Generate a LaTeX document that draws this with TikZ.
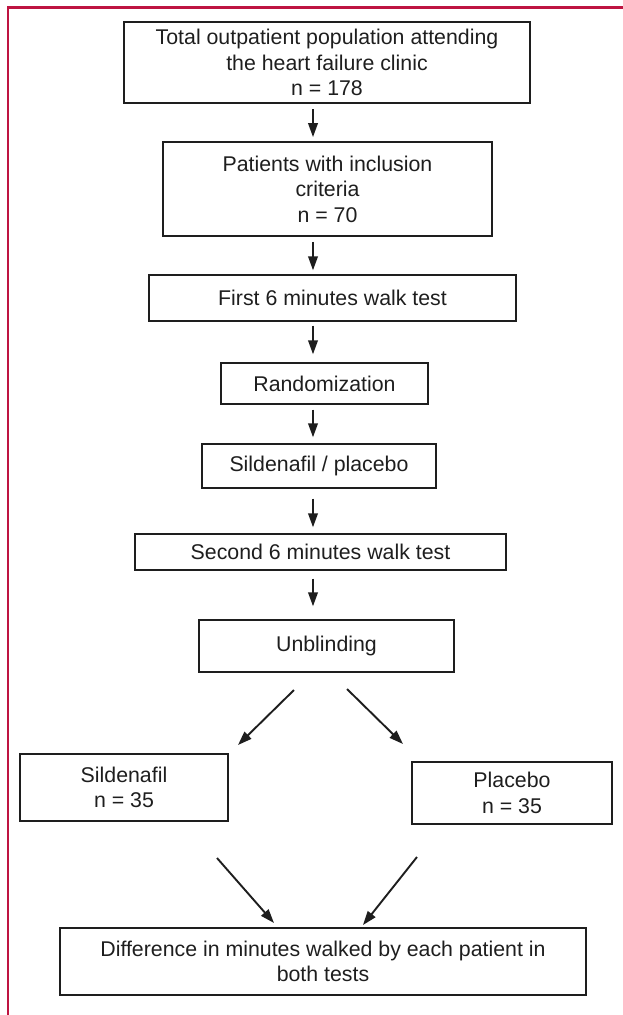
\documentclass[tikz,border=0pt]{standalone}
\usepackage{fontspec}
\setmainfont{Liberation Sans}
\usetikzlibrary{arrows.meta}
\definecolor{frame}{RGB}{190,20,65}
\definecolor{ink}{RGB}{30,30,30}
\begin{document}
\begin{tikzpicture}[x=0.5bp,y=-0.5bp,
  box/.style={draw=ink, line width=0.7bp, inner sep=0pt, align=center, text=ink,
              font=\fontsize{10.7}{12.8}\selectfont},
  heavy/.style={box, line width=1.4bp},
  mid/.style={box, line width=0.9bp},
  arr/.style={draw=ink, line width=0.95bp, -{Triangle[length=7bp,width=4.8bp]}}]
\useasboundingbox (0,0) rectangle (623,1015);
\draw[frame, line width=1.3bp] (623,7.5) -- (8,7.5) -- (8,1015);

\node[heavy, minimum width=203bp, minimum height=40.5bp] (b1) at (327,62.5)
  {Total outpatient population attending\\the heart failure clinic\\n = 178};
\node[mid, minimum width=164.5bp, minimum height=47bp] (b2) at (327.5,189)
  {Patients with inclusion\\criteria\\n = 70};
\node[box, minimum width=183.5bp, minimum height=23bp] (b3) at (332.5,298)
  {First 6 minutes walk test};
\node[box, minimum width=103.5bp, minimum height=20.5bp] (b4) at (324.5,383.5)
  {Randomization};
\node[box, minimum width=117bp, minimum height=22bp] (b5) at (319,466)
  {Sildenafil / placebo};
\node[box, minimum width=185.5bp, minimum height=18bp] (b6) at (320.5,552)
  {Second 6 minutes walk test};
\node[box, minimum width=127.5bp, minimum height=26bp] (b7) at (326.5,646)
  {Unblinding};
\node[box, minimum width=104bp, minimum height=33.5bp] (b8) at (124,787.5)
  {Sildenafil\\n = 35};
\node[box, minimum width=100bp, minimum height=31bp] (b9) at (512,793)
  {Placebo\\n = 35};
\node[heavy, minimum width=263bp, minimum height=33.5bp] (b10) at (323,961.5)
  {Difference in minutes walked by each patient in\\both tests};

\coordinate (ax) at (313,0);
\draw[arr, shorten <=2.5bp, shorten >=2bp] (b1.south -| ax) -- (b2.north -| ax);
\draw[arr, shorten <=2.5bp, shorten >=2bp] (b2.south -| ax) -- (b3.north -| ax);
\draw[arr, shorten <=2bp, shorten >=4bp] (b3.south -| ax) -- (b4.north -| ax);
\draw[arr, shorten <=2.5bp, shorten >=3bp] (b4.south -| ax) -- (b5.north -| ax);
\draw[arr, shorten <=5bp, shorten >=3bp] (b5.south -| ax) -- (b6.north -| ax);
\draw[arr, shorten <=4bp, shorten >=6.5bp] (b6.south -| ax) -- (b7.north -| ax);

\coordinate (s78) at (294,690);  \coordinate (e78) at (238,745);
\coordinate (s79) at (347,689);  \coordinate (e79) at (403,744);
\coordinate (s810) at (217,858); \coordinate (e810) at (274,923);
\coordinate (s910) at (417,857); \coordinate (e910) at (363,925);
\draw[arr] (s78) -- (e78);
\draw[arr] (s79) -- (e79);
\draw[arr] (s810) -- (e810);
\draw[arr] (s910) -- (e910);
\end{tikzpicture}
\end{document}
